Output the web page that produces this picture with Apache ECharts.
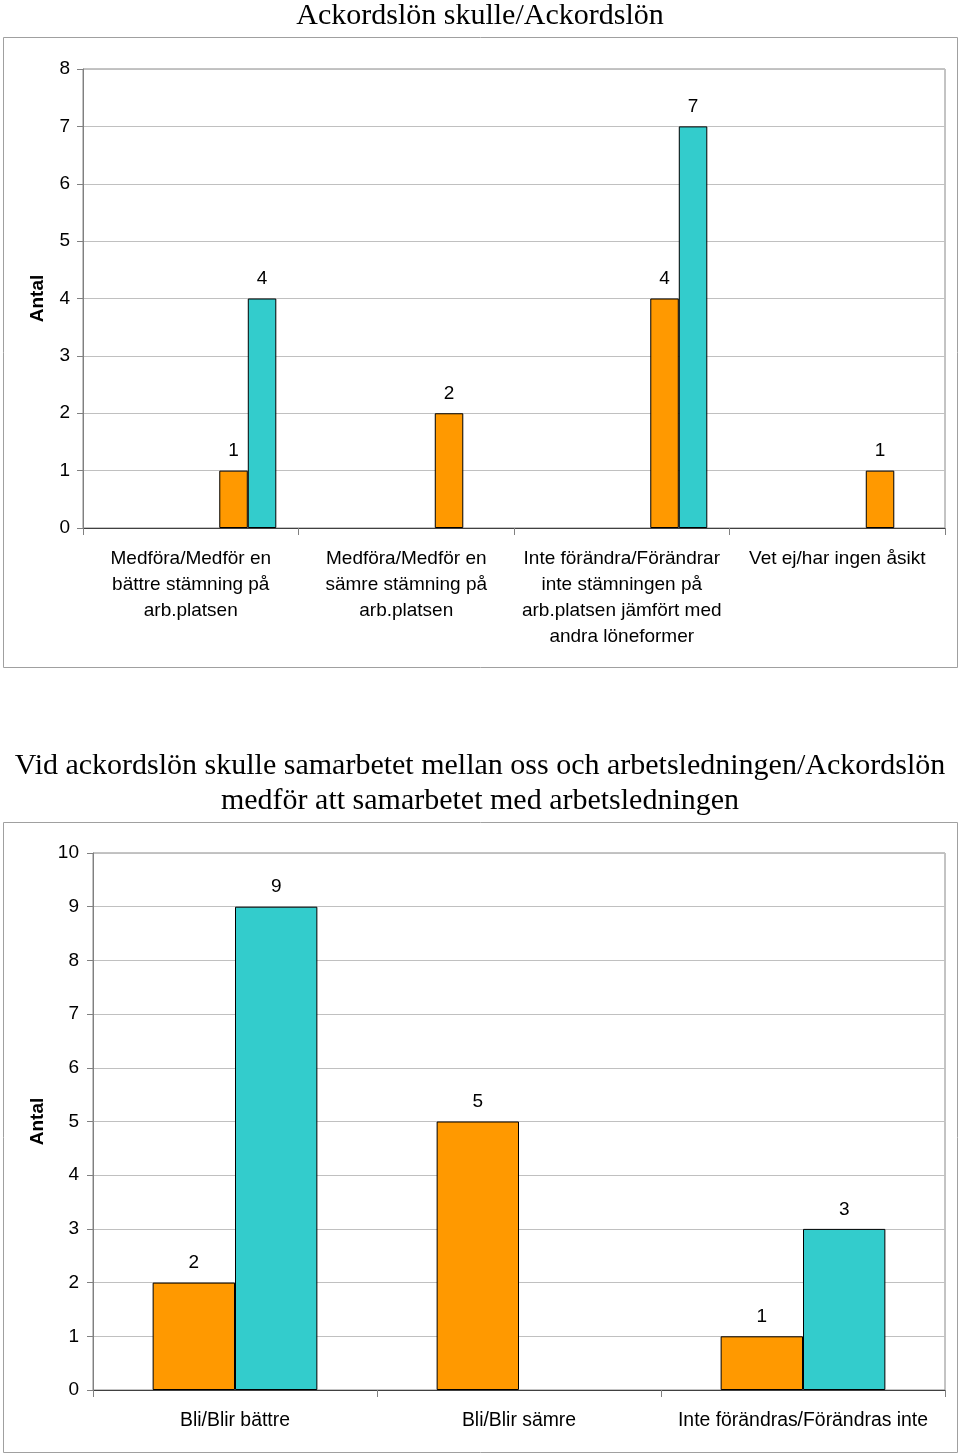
<!DOCTYPE html>
<html>
<head>
<meta charset="utf-8">
<script src="https://cdn.jsdelivr.net/npm/echarts@6/dist/echarts.min.js"></script>
<style>
html,body{margin:0;padding:0;background:#fff;}
#chart{width:960px;height:1454px;}
</style>
</head>
<body>
<div id="chart"></div>
<script>
// ---- Chart 1 data ----
const title1 = 'Ackordslön skulle/Ackordslön';
const categories1 = [
  'Medföra/Medför en\nbättre stämning på\narb.platsen',
  'Medföra/Medför en\nsämre stämning på\narb.platsen',
  'Inte förändra/Förändrar\ninte stämningen på\narb.platsen jämfört med\nandra löneformer',
  'Vet ej/har ingen åsikt'
];
const orange1 = [1, 2, 4, 1];
const teal1 = [4, null, 7, null];
const empty1 = [null, null, null, null];
const yMin1 = 0, yMax1 = 8, yStep1 = 1;

// ---- Chart 2 data ----
const title2 = 'Vid ackordslön skulle samarbetet mellan oss och arbetsledningen/Ackordslön\nmedför att samarbetet med arbetsledningen';
const categories2 = ['Bli/Blir bättre', 'Bli/Blir sämre', 'Inte förändras/Förändras inte'];
const orange2 = [2, 5, 1];
const teal2 = [9, null, 3];
const yMin2 = 0, yMax2 = 10, yStep2 = 1;

const yName = 'Antal';

const ORANGE = '#FF9900';
const TEAL = '#33CCCC';
const SANS = '"Liberation Sans", Arial, Helvetica, sans-serif';
const SERIF = '"Liberation Serif", "Times New Roman", serif';

const chart = echarts.init(document.getElementById('chart'), null, {renderer: 'canvas'});

const labelFmt = p => (p.value == null ? '' : String(p.value));

function barSeries(data, color, gridIdx, gap) {
  return {
    type: 'bar',
    xAxisIndex: gridIdx,
    yAxisIndex: gridIdx,
    data: data,
    barGap: '0%',
    barCategoryGap: gap,
    itemStyle: {color: color, borderColor: '#000', borderWidth: 1},
    label: {show: true, position: 'top', distance: 10, formatter: labelFmt,
            color: '#000', fontFamily: SANS, fontSize: 19},
    emphasis: {disabled: true},
    animation: false
  };
}

function xAxisCfg(cats, gridIdx, fs) {
  return {
    type: 'category', gridIndex: gridIdx, data: cats,
    axisLine: {lineStyle: {color: '#404040', width: 1}},
    axisTick: {show: true, length: 7, lineStyle: {color: '#808080'}},
    axisLabel: {interval: 0, color: '#000', fontFamily: SANS, fontSize: fs,
                lineHeight: 26, margin: 18, hideOverlap: false},
    splitLine: {show: false}
  };
}

function yAxisCfg(min, max, step, gridIdx, margin, nameGap) {
  return {
    type: 'value', gridIndex: gridIdx, min: min, max: max, interval: step,
    name: yName, nameLocation: 'middle', nameRotate: 90, nameGap: nameGap,
    nameTextStyle: {fontFamily: SANS, fontSize: 19, fontWeight: 'bold', color: '#000'},
    axisLine: {show: true, lineStyle: {color: '#808080'}},
    axisTick: {show: true, length: 6, lineStyle: {color: '#808080'}},
    axisLabel: {color: '#000', fontFamily: SANS, fontSize: 19, margin: margin},
    splitLine: {show: true, lineStyle: {color: '#c0c0c0', width: 1}}
  };
}

const option = {
  backgroundColor: '#fff',
  animation: false,
  title: [
    {text: title1, left: 'center', top: -1, padding: [0, 0, 0, 4],
     textStyle: {fontFamily: SERIF, fontSize: 30, fontWeight: 'normal', color: '#000', lineHeight: 34}},
    {text: title2, left: 'center', top: 749, padding: [0, 0, 0, 4],
     textStyle: {fontFamily: SERIF, fontSize: 30, fontWeight: 'normal', color: '#000', lineHeight: 35}}
  ],
  graphic: [
    {type: 'rect', shape: {x: 3.5, y: 37.5, width: 954, height: 630},
     style: {fill: 'none', stroke: '#a0a0a0', lineWidth: 1}, z: -1, silent: true},
    {type: 'rect', shape: {x: 3.5, y: 822.5, width: 954, height: 630},
     style: {fill: 'none', stroke: '#a0a0a0', lineWidth: 1}, z: -1, silent: true}
  ],
  grid: [
    {left: 83, right: 15, top: 69, height: 459, show: true, borderColor: '#888', borderWidth: 1, containLabel: false},
    {left: 93, right: 15, top: 853, height: 537, show: true, borderColor: '#888', borderWidth: 1, containLabel: false}
  ],
  xAxis: [xAxisCfg(categories1, 0, 19), xAxisCfg(categories2, 1, 19.4)],
  yAxis: [yAxisCfg(yMin1, yMax1, yStep1, 0, 13, 36), yAxisCfg(yMin2, yMax2, yStep2, 1, 14, 46)],
  series: [
    barSeries(empty1, ORANGE, 0, '20.6%'),
    barSeries(empty1, ORANGE, 0, '20.6%'),
    barSeries(empty1, ORANGE, 0, '20.6%'),
    barSeries(empty1, ORANGE, 0, '20.6%'),
    barSeries(orange1, ORANGE, 0, '20.6%'),
    barSeries(teal1, TEAL, 0, '20.6%'),
    barSeries(orange2, ORANGE, 1, '42%'),
    barSeries(teal2, TEAL, 1, '42%')
  ]
};
chart.setOption(option);
</script>
</body>
</html>
